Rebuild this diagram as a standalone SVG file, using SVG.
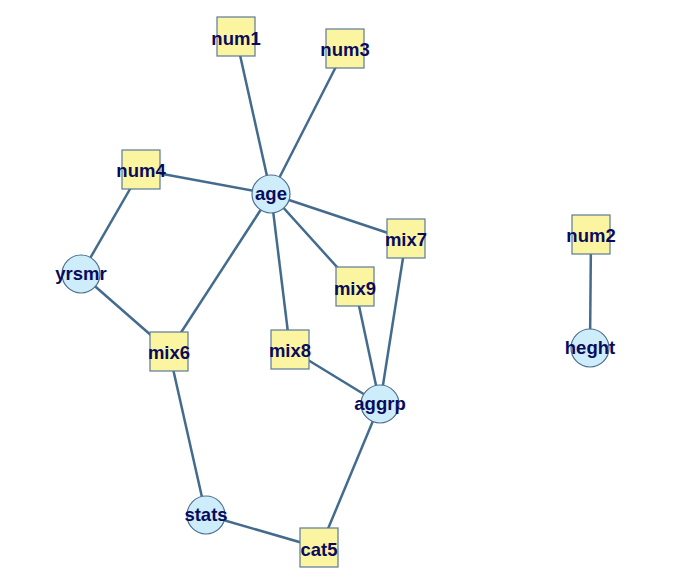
<svg xmlns="http://www.w3.org/2000/svg" width="688" height="588" viewBox="0 0 688 588">
<style>
.e{stroke:#436B8E;stroke-width:2.5;fill:none}
.sq{fill:#FBF5A2;stroke:#5B7A98;stroke-width:1.2}
.ci{fill:#CDEDFB;stroke:#4F6F8F;stroke-width:1.2}
.t{font-family:"Liberation Sans",Arial,sans-serif;font-weight:bold;font-size:18.5px;fill:#0B0B5C;text-anchor:middle}
</style>
<rect width="688" height="588" fill="#ffffff"/>
<g id="connectors">
<line class="e" x1="271" y1="194" x2="236" y2="37"/>
<line class="e" x1="271" y1="194" x2="345" y2="49"/>
<line class="e" x1="271" y1="194" x2="141" y2="170"/>
<line class="e" x1="271" y1="194" x2="406" y2="239"/>
<line class="e" x1="271" y1="194" x2="355" y2="287"/>
<line class="e" x1="271" y1="194" x2="290" y2="349"/>
<line class="e" x1="271" y1="194" x2="169" y2="351"/>
<line class="e" x1="141" y1="170" x2="81" y2="274"/>
<line class="e" x1="81" y1="274" x2="169" y2="351"/>
<line class="e" x1="169" y1="351" x2="206" y2="515"/>
<line class="e" x1="206" y1="515" x2="320" y2="548"/>
<line class="e" x1="320" y1="548" x2="380" y2="404"/>
<line class="e" x1="380" y1="404" x2="290" y2="349"/>
<line class="e" x1="380" y1="404" x2="355" y2="287"/>
<line class="e" x1="380" y1="404" x2="406" y2="239"/>
<line class="e" x1="591" y1="235" x2="590" y2="348"/>
</g>
<g id="num1"><rect class="sq" x="217" y="17" width="38" height="39"/><text class="t" x="236" y="45">num1</text></g>
<g id="num3"><rect class="sq" x="326" y="29" width="38" height="39"/><text class="t" x="345" y="56">num3</text></g>
<g id="num4"><rect class="sq" x="122" y="150" width="38" height="39"/><text class="t" x="141" y="177">num4</text></g>
<g id="mix6"><rect class="sq" x="150" y="332" width="38" height="39"/><text class="t" x="169" y="359">mix6</text></g>
<g id="mix7"><rect class="sq" x="387" y="219" width="38" height="39"/><text class="t" x="406" y="246">mix7</text></g>
<g id="mix9"><rect class="sq" x="336" y="267" width="38" height="39"/><text class="t" x="355" y="295">mix9</text></g>
<g id="mix8"><rect class="sq" x="271" y="330" width="38" height="39"/><text class="t" x="290" y="357">mix8</text></g>
<g id="cat5"><rect class="sq" x="300" y="528" width="38" height="39"/><text class="t" x="319" y="556">cat5</text></g>
<g id="num2"><rect class="sq" x="572" y="215" width="38" height="39"/><text class="t" x="591" y="242">num2</text></g>
<g id="age"><circle class="ci" cx="271" cy="194" r="19"/><text class="t" x="271" y="200">age</text></g>
<g id="yrsmr"><circle class="ci" cx="81" cy="274" r="19"/><text class="t" x="81" y="280">yrsmr</text></g>
<g id="aggrp"><circle class="ci" cx="380" cy="404" r="19"/><text class="t" x="380" y="410">aggrp</text></g>
<g id="stats"><circle class="ci" cx="206" cy="515" r="19"/><text class="t" x="206" y="521">stats</text></g>
<g id="heght"><circle class="ci" cx="590" cy="348" r="19"/><text class="t" x="590" y="354">heght</text></g>
</svg>
